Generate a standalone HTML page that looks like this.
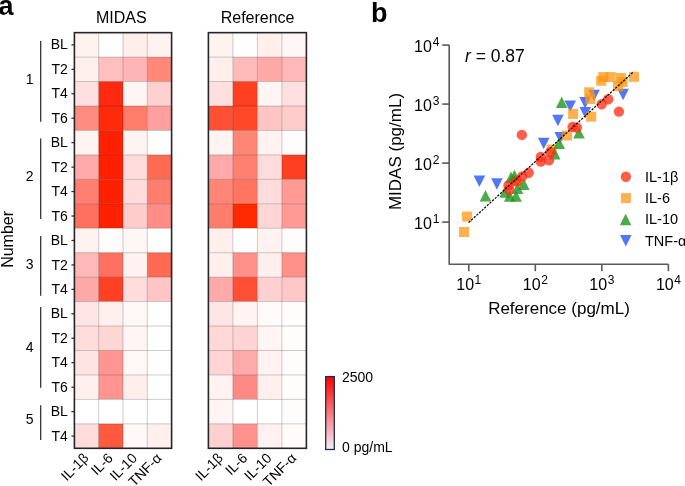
<!DOCTYPE html>
<html><head><meta charset="utf-8"><style>
html,body{margin:0;padding:0;background:#fff;width:685px;height:486px;overflow:hidden}
svg{display:block;will-change:transform}
text{font-family:"Liberation Sans", sans-serif;fill:#000}
</style></head><body>
<svg width="685" height="486" viewBox="0 0 685 486">
<rect x="74.40" y="32.65" width="24.30" height="24.45" fill="#fff3f0"/>
<rect x="98.70" y="32.65" width="24.30" height="24.45" fill="#fefefe"/>
<rect x="123.00" y="32.65" width="24.30" height="24.45" fill="#ffeeec"/>
<rect x="147.30" y="32.65" width="24.30" height="24.45" fill="#fff2f2"/>
<rect x="74.40" y="57.10" width="24.30" height="24.45" fill="#ffefed"/>
<rect x="98.70" y="57.10" width="24.30" height="24.45" fill="#ffbfbf"/>
<rect x="123.00" y="57.10" width="24.30" height="24.45" fill="#ffb5b5"/>
<rect x="147.30" y="57.10" width="24.30" height="24.45" fill="#ff8878"/>
<rect x="74.40" y="81.55" width="24.30" height="24.45" fill="#ffe0e0"/>
<rect x="98.70" y="81.55" width="24.30" height="24.45" fill="#ff2a10"/>
<rect x="123.00" y="81.55" width="24.30" height="24.45" fill="#fff5f3"/>
<rect x="147.30" y="81.55" width="24.30" height="24.45" fill="#ffd0d0"/>
<rect x="74.40" y="106.00" width="24.30" height="24.45" fill="#ff8c80"/>
<rect x="98.70" y="106.00" width="24.30" height="24.45" fill="#ff2a0a"/>
<rect x="123.00" y="106.00" width="24.30" height="24.45" fill="#ff7d6a"/>
<rect x="147.30" y="106.00" width="24.30" height="24.45" fill="#ff9f9f"/>
<rect x="74.40" y="130.45" width="24.30" height="24.45" fill="#fff4f0"/>
<rect x="98.70" y="130.45" width="24.30" height="24.45" fill="#ff2000"/>
<rect x="123.00" y="130.45" width="24.30" height="24.45" fill="#fff4f2"/>
<rect x="147.30" y="130.45" width="24.30" height="24.45" fill="#ffffff"/>
<rect x="74.40" y="154.90" width="24.30" height="24.45" fill="#ffaaaa"/>
<rect x="98.70" y="154.90" width="24.30" height="24.45" fill="#ff2000"/>
<rect x="123.00" y="154.90" width="24.30" height="24.45" fill="#ffdcdc"/>
<rect x="147.30" y="154.90" width="24.30" height="24.45" fill="#ff6a55"/>
<rect x="74.40" y="179.35" width="24.30" height="24.45" fill="#ff8070"/>
<rect x="98.70" y="179.35" width="24.30" height="24.45" fill="#ff2000"/>
<rect x="123.00" y="179.35" width="24.30" height="24.45" fill="#ffdcdc"/>
<rect x="147.30" y="179.35" width="24.30" height="24.45" fill="#ff7d6d"/>
<rect x="74.40" y="203.80" width="24.30" height="24.45" fill="#ff7060"/>
<rect x="98.70" y="203.80" width="24.30" height="24.45" fill="#ff2000"/>
<rect x="123.00" y="203.80" width="24.30" height="24.45" fill="#ffcccc"/>
<rect x="147.30" y="203.80" width="24.30" height="24.45" fill="#ff8c86"/>
<rect x="74.40" y="228.25" width="24.30" height="24.45" fill="#fff2f0"/>
<rect x="98.70" y="228.25" width="24.30" height="24.45" fill="#fffcfc"/>
<rect x="123.00" y="228.25" width="24.30" height="24.45" fill="#fff7f5"/>
<rect x="147.30" y="228.25" width="24.30" height="24.45" fill="#ffffff"/>
<rect x="74.40" y="252.70" width="24.30" height="24.45" fill="#ffb8b8"/>
<rect x="98.70" y="252.70" width="24.30" height="24.45" fill="#ff7060"/>
<rect x="123.00" y="252.70" width="24.30" height="24.45" fill="#fff2f0"/>
<rect x="147.30" y="252.70" width="24.30" height="24.45" fill="#ff6a55"/>
<rect x="74.40" y="277.15" width="24.30" height="24.45" fill="#ffa8a8"/>
<rect x="98.70" y="277.15" width="24.30" height="24.45" fill="#ff4025"/>
<rect x="123.00" y="277.15" width="24.30" height="24.45" fill="#ffdcdc"/>
<rect x="147.30" y="277.15" width="24.30" height="24.45" fill="#ffc4c4"/>
<rect x="74.40" y="301.60" width="24.30" height="24.45" fill="#ffe6e6"/>
<rect x="98.70" y="301.60" width="24.30" height="24.45" fill="#fff0ee"/>
<rect x="123.00" y="301.60" width="24.30" height="24.45" fill="#fff8f6"/>
<rect x="147.30" y="301.60" width="24.30" height="24.45" fill="#ffffff"/>
<rect x="74.40" y="326.05" width="24.30" height="24.45" fill="#ffdcdc"/>
<rect x="98.70" y="326.05" width="24.30" height="24.45" fill="#ffd6d6"/>
<rect x="123.00" y="326.05" width="24.30" height="24.45" fill="#fff5f4"/>
<rect x="147.30" y="326.05" width="24.30" height="24.45" fill="#ffffff"/>
<rect x="74.40" y="350.50" width="24.30" height="24.45" fill="#ffe4e4"/>
<rect x="98.70" y="350.50" width="24.30" height="24.45" fill="#ff9590"/>
<rect x="123.00" y="350.50" width="24.30" height="24.45" fill="#fff8f6"/>
<rect x="147.30" y="350.50" width="24.30" height="24.45" fill="#ffffff"/>
<rect x="74.40" y="374.95" width="24.30" height="24.45" fill="#fff0ee"/>
<rect x="98.70" y="374.95" width="24.30" height="24.45" fill="#ff9590"/>
<rect x="123.00" y="374.95" width="24.30" height="24.45" fill="#ffeeec"/>
<rect x="147.30" y="374.95" width="24.30" height="24.45" fill="#ffffff"/>
<rect x="74.40" y="399.40" width="24.30" height="24.45" fill="#ffffff"/>
<rect x="98.70" y="399.40" width="24.30" height="24.45" fill="#ffffff"/>
<rect x="123.00" y="399.40" width="24.30" height="24.45" fill="#ffffff"/>
<rect x="147.30" y="399.40" width="24.30" height="24.45" fill="#ffffff"/>
<rect x="74.40" y="423.85" width="24.30" height="24.45" fill="#ffdcdc"/>
<rect x="98.70" y="423.85" width="24.30" height="24.45" fill="#ff5a40"/>
<rect x="123.00" y="423.85" width="24.30" height="24.45" fill="#fff8f6"/>
<rect x="147.30" y="423.85" width="24.30" height="24.45" fill="#fff0ee"/>
<line x1="98.70" y1="32.65" x2="98.70" y2="448.30" stroke="#000" stroke-opacity="0.2" stroke-width="1"/>
<line x1="123.00" y1="32.65" x2="123.00" y2="448.30" stroke="#000" stroke-opacity="0.2" stroke-width="1"/>
<line x1="147.30" y1="32.65" x2="147.30" y2="448.30" stroke="#000" stroke-opacity="0.2" stroke-width="1"/>
<line x1="74.40" y1="57.10" x2="171.60" y2="57.10" stroke="#000" stroke-opacity="0.2" stroke-width="1"/>
<line x1="74.40" y1="81.55" x2="171.60" y2="81.55" stroke="#000" stroke-opacity="0.2" stroke-width="1"/>
<line x1="74.40" y1="106.00" x2="171.60" y2="106.00" stroke="#000" stroke-opacity="0.2" stroke-width="1"/>
<line x1="74.40" y1="130.45" x2="171.60" y2="130.45" stroke="#000" stroke-opacity="0.2" stroke-width="1"/>
<line x1="74.40" y1="154.90" x2="171.60" y2="154.90" stroke="#000" stroke-opacity="0.2" stroke-width="1"/>
<line x1="74.40" y1="179.35" x2="171.60" y2="179.35" stroke="#000" stroke-opacity="0.2" stroke-width="1"/>
<line x1="74.40" y1="203.80" x2="171.60" y2="203.80" stroke="#000" stroke-opacity="0.2" stroke-width="1"/>
<line x1="74.40" y1="228.25" x2="171.60" y2="228.25" stroke="#000" stroke-opacity="0.2" stroke-width="1"/>
<line x1="74.40" y1="252.70" x2="171.60" y2="252.70" stroke="#000" stroke-opacity="0.2" stroke-width="1"/>
<line x1="74.40" y1="277.15" x2="171.60" y2="277.15" stroke="#000" stroke-opacity="0.2" stroke-width="1"/>
<line x1="74.40" y1="301.60" x2="171.60" y2="301.60" stroke="#000" stroke-opacity="0.2" stroke-width="1"/>
<line x1="74.40" y1="326.05" x2="171.60" y2="326.05" stroke="#000" stroke-opacity="0.2" stroke-width="1"/>
<line x1="74.40" y1="350.50" x2="171.60" y2="350.50" stroke="#000" stroke-opacity="0.2" stroke-width="1"/>
<line x1="74.40" y1="374.95" x2="171.60" y2="374.95" stroke="#000" stroke-opacity="0.2" stroke-width="1"/>
<line x1="74.40" y1="399.40" x2="171.60" y2="399.40" stroke="#000" stroke-opacity="0.2" stroke-width="1"/>
<line x1="74.40" y1="423.85" x2="171.60" y2="423.85" stroke="#000" stroke-opacity="0.2" stroke-width="1"/>
<rect x="74.40" y="32.65" width="97.20" height="415.65" fill="none" stroke="#262626" stroke-width="1.6"/>
<text x="89.55" y="458.90" font-size="14" text-anchor="end" transform="rotate(-45 89.55 458.90)">IL-1β</text>
<text x="113.85" y="458.90" font-size="14" text-anchor="end" transform="rotate(-45 113.85 458.90)">IL-6</text>
<text x="138.15" y="458.90" font-size="14" text-anchor="end" transform="rotate(-45 138.15 458.90)">IL-10</text>
<text x="162.45" y="458.90" font-size="14" text-anchor="end" transform="rotate(-45 162.45 458.90)">TNF-α</text>
<rect x="208.40" y="32.65" width="24.50" height="24.45" fill="#fff3f0"/>
<rect x="232.90" y="32.65" width="24.50" height="24.45" fill="#fefefe"/>
<rect x="257.40" y="32.65" width="24.50" height="24.45" fill="#fff0ee"/>
<rect x="281.90" y="32.65" width="24.50" height="24.45" fill="#fff7f5"/>
<rect x="208.40" y="57.10" width="24.50" height="24.45" fill="#fff0ee"/>
<rect x="232.90" y="57.10" width="24.50" height="24.45" fill="#ffbaba"/>
<rect x="257.40" y="57.10" width="24.50" height="24.45" fill="#ffa8a8"/>
<rect x="281.90" y="57.10" width="24.50" height="24.45" fill="#ffb8b8"/>
<rect x="208.40" y="81.55" width="24.50" height="24.45" fill="#ffe0e0"/>
<rect x="232.90" y="81.55" width="24.50" height="24.45" fill="#ff4020"/>
<rect x="257.40" y="81.55" width="24.50" height="24.45" fill="#fff5f2"/>
<rect x="281.90" y="81.55" width="24.50" height="24.45" fill="#ffe0e0"/>
<rect x="208.40" y="106.00" width="24.50" height="24.45" fill="#ff5035"/>
<rect x="232.90" y="106.00" width="24.50" height="24.45" fill="#ff4828"/>
<rect x="257.40" y="106.00" width="24.50" height="24.45" fill="#ffc4c4"/>
<rect x="281.90" y="106.00" width="24.50" height="24.45" fill="#ffcccc"/>
<rect x="208.40" y="130.45" width="24.50" height="24.45" fill="#fff4f2"/>
<rect x="232.90" y="130.45" width="24.50" height="24.45" fill="#ff8575"/>
<rect x="257.40" y="130.45" width="24.50" height="24.45" fill="#fff2f0"/>
<rect x="281.90" y="130.45" width="24.50" height="24.45" fill="#fffcfc"/>
<rect x="208.40" y="154.90" width="24.50" height="24.45" fill="#ffaaaa"/>
<rect x="232.90" y="154.90" width="24.50" height="24.45" fill="#ff8070"/>
<rect x="257.40" y="154.90" width="24.50" height="24.45" fill="#ffdcdc"/>
<rect x="281.90" y="154.90" width="24.50" height="24.45" fill="#ff4020"/>
<rect x="208.40" y="179.35" width="24.50" height="24.45" fill="#ff8575"/>
<rect x="232.90" y="179.35" width="24.50" height="24.45" fill="#ff7560"/>
<rect x="257.40" y="179.35" width="24.50" height="24.45" fill="#ffdcdc"/>
<rect x="281.90" y="179.35" width="24.50" height="24.45" fill="#ff9a95"/>
<rect x="208.40" y="203.80" width="24.50" height="24.45" fill="#ff7d6a"/>
<rect x="232.90" y="203.80" width="24.50" height="24.45" fill="#ff2a00"/>
<rect x="257.40" y="203.80" width="24.50" height="24.45" fill="#ffd6d6"/>
<rect x="281.90" y="203.80" width="24.50" height="24.45" fill="#ff9a95"/>
<rect x="208.40" y="228.25" width="24.50" height="24.45" fill="#fff0ee"/>
<rect x="232.90" y="228.25" width="24.50" height="24.45" fill="#ffffff"/>
<rect x="257.40" y="228.25" width="24.50" height="24.45" fill="#fff2f0"/>
<rect x="281.90" y="228.25" width="24.50" height="24.45" fill="#fffcfc"/>
<rect x="208.40" y="252.70" width="24.50" height="24.45" fill="#fff0ee"/>
<rect x="232.90" y="252.70" width="24.50" height="24.45" fill="#ff908a"/>
<rect x="257.40" y="252.70" width="24.50" height="24.45" fill="#fff0ee"/>
<rect x="281.90" y="252.70" width="24.50" height="24.45" fill="#ff908a"/>
<rect x="208.40" y="277.15" width="24.50" height="24.45" fill="#ffaaaa"/>
<rect x="232.90" y="277.15" width="24.50" height="24.45" fill="#ff5035"/>
<rect x="257.40" y="277.15" width="24.50" height="24.45" fill="#ffd0d0"/>
<rect x="281.90" y="277.15" width="24.50" height="24.45" fill="#ffc8c8"/>
<rect x="208.40" y="301.60" width="24.50" height="24.45" fill="#ffe6e6"/>
<rect x="232.90" y="301.60" width="24.50" height="24.45" fill="#fff4f2"/>
<rect x="257.40" y="301.60" width="24.50" height="24.45" fill="#fffbfa"/>
<rect x="281.90" y="301.60" width="24.50" height="24.45" fill="#fffcfc"/>
<rect x="208.40" y="326.05" width="24.50" height="24.45" fill="#ffd8d8"/>
<rect x="232.90" y="326.05" width="24.50" height="24.45" fill="#ffd4d4"/>
<rect x="257.40" y="326.05" width="24.50" height="24.45" fill="#fff5f4"/>
<rect x="281.90" y="326.05" width="24.50" height="24.45" fill="#fffcfc"/>
<rect x="208.40" y="350.50" width="24.50" height="24.45" fill="#ffd4d4"/>
<rect x="232.90" y="350.50" width="24.50" height="24.45" fill="#ffaaaa"/>
<rect x="257.40" y="350.50" width="24.50" height="24.45" fill="#fff2f0"/>
<rect x="281.90" y="350.50" width="24.50" height="24.45" fill="#fffcfc"/>
<rect x="208.40" y="374.95" width="24.50" height="24.45" fill="#fff2f0"/>
<rect x="232.90" y="374.95" width="24.50" height="24.45" fill="#ff8a85"/>
<rect x="257.40" y="374.95" width="24.50" height="24.45" fill="#fff0ee"/>
<rect x="281.90" y="374.95" width="24.50" height="24.45" fill="#fffcfc"/>
<rect x="208.40" y="399.40" width="24.50" height="24.45" fill="#fff5f4"/>
<rect x="232.90" y="399.40" width="24.50" height="24.45" fill="#ffffff"/>
<rect x="257.40" y="399.40" width="24.50" height="24.45" fill="#ffffff"/>
<rect x="281.90" y="399.40" width="24.50" height="24.45" fill="#fffcfc"/>
<rect x="208.40" y="423.85" width="24.50" height="24.45" fill="#ffd0d0"/>
<rect x="232.90" y="423.85" width="24.50" height="24.45" fill="#ff928d"/>
<rect x="257.40" y="423.85" width="24.50" height="24.45" fill="#fff2f0"/>
<rect x="281.90" y="423.85" width="24.50" height="24.45" fill="#fffcfa"/>
<line x1="232.90" y1="32.65" x2="232.90" y2="448.30" stroke="#000" stroke-opacity="0.2" stroke-width="1"/>
<line x1="257.40" y1="32.65" x2="257.40" y2="448.30" stroke="#000" stroke-opacity="0.2" stroke-width="1"/>
<line x1="281.90" y1="32.65" x2="281.90" y2="448.30" stroke="#000" stroke-opacity="0.2" stroke-width="1"/>
<line x1="208.40" y1="57.10" x2="306.40" y2="57.10" stroke="#000" stroke-opacity="0.2" stroke-width="1"/>
<line x1="208.40" y1="81.55" x2="306.40" y2="81.55" stroke="#000" stroke-opacity="0.2" stroke-width="1"/>
<line x1="208.40" y1="106.00" x2="306.40" y2="106.00" stroke="#000" stroke-opacity="0.2" stroke-width="1"/>
<line x1="208.40" y1="130.45" x2="306.40" y2="130.45" stroke="#000" stroke-opacity="0.2" stroke-width="1"/>
<line x1="208.40" y1="154.90" x2="306.40" y2="154.90" stroke="#000" stroke-opacity="0.2" stroke-width="1"/>
<line x1="208.40" y1="179.35" x2="306.40" y2="179.35" stroke="#000" stroke-opacity="0.2" stroke-width="1"/>
<line x1="208.40" y1="203.80" x2="306.40" y2="203.80" stroke="#000" stroke-opacity="0.2" stroke-width="1"/>
<line x1="208.40" y1="228.25" x2="306.40" y2="228.25" stroke="#000" stroke-opacity="0.2" stroke-width="1"/>
<line x1="208.40" y1="252.70" x2="306.40" y2="252.70" stroke="#000" stroke-opacity="0.2" stroke-width="1"/>
<line x1="208.40" y1="277.15" x2="306.40" y2="277.15" stroke="#000" stroke-opacity="0.2" stroke-width="1"/>
<line x1="208.40" y1="301.60" x2="306.40" y2="301.60" stroke="#000" stroke-opacity="0.2" stroke-width="1"/>
<line x1="208.40" y1="326.05" x2="306.40" y2="326.05" stroke="#000" stroke-opacity="0.2" stroke-width="1"/>
<line x1="208.40" y1="350.50" x2="306.40" y2="350.50" stroke="#000" stroke-opacity="0.2" stroke-width="1"/>
<line x1="208.40" y1="374.95" x2="306.40" y2="374.95" stroke="#000" stroke-opacity="0.2" stroke-width="1"/>
<line x1="208.40" y1="399.40" x2="306.40" y2="399.40" stroke="#000" stroke-opacity="0.2" stroke-width="1"/>
<line x1="208.40" y1="423.85" x2="306.40" y2="423.85" stroke="#000" stroke-opacity="0.2" stroke-width="1"/>
<rect x="208.40" y="32.65" width="98.00" height="415.65" fill="none" stroke="#262626" stroke-width="1.6"/>
<text x="223.65" y="458.90" font-size="14" text-anchor="end" transform="rotate(-45 223.65 458.90)">IL-1β</text>
<text x="248.15" y="458.90" font-size="14" text-anchor="end" transform="rotate(-45 248.15 458.90)">IL-6</text>
<text x="272.65" y="458.90" font-size="14" text-anchor="end" transform="rotate(-45 272.65 458.90)">IL-10</text>
<text x="297.15" y="458.90" font-size="14" text-anchor="end" transform="rotate(-45 297.15 458.90)">TNF-α</text>
<line x1="71.40" y1="44.88" x2="74.40" y2="44.88" stroke="#262626" stroke-width="1.2"/>
<text x="67.90" y="49.48" font-size="14" text-anchor="end">BL</text>
<line x1="71.40" y1="69.32" x2="74.40" y2="69.32" stroke="#262626" stroke-width="1.2"/>
<text x="67.90" y="73.92" font-size="14" text-anchor="end">T2</text>
<line x1="71.40" y1="93.78" x2="74.40" y2="93.78" stroke="#262626" stroke-width="1.2"/>
<text x="67.90" y="98.38" font-size="14" text-anchor="end">T4</text>
<line x1="71.40" y1="118.22" x2="74.40" y2="118.22" stroke="#262626" stroke-width="1.2"/>
<text x="67.90" y="122.82" font-size="14" text-anchor="end">T6</text>
<line x1="71.40" y1="142.67" x2="74.40" y2="142.67" stroke="#262626" stroke-width="1.2"/>
<text x="67.90" y="147.27" font-size="14" text-anchor="end">BL</text>
<line x1="71.40" y1="167.12" x2="74.40" y2="167.12" stroke="#262626" stroke-width="1.2"/>
<text x="67.90" y="171.72" font-size="14" text-anchor="end">T2</text>
<line x1="71.40" y1="191.57" x2="74.40" y2="191.57" stroke="#262626" stroke-width="1.2"/>
<text x="67.90" y="196.17" font-size="14" text-anchor="end">T4</text>
<line x1="71.40" y1="216.03" x2="74.40" y2="216.03" stroke="#262626" stroke-width="1.2"/>
<text x="67.90" y="220.62" font-size="14" text-anchor="end">T6</text>
<line x1="71.40" y1="240.47" x2="74.40" y2="240.47" stroke="#262626" stroke-width="1.2"/>
<text x="67.90" y="245.07" font-size="14" text-anchor="end">BL</text>
<line x1="71.40" y1="264.93" x2="74.40" y2="264.93" stroke="#262626" stroke-width="1.2"/>
<text x="67.90" y="269.53" font-size="14" text-anchor="end">T2</text>
<line x1="71.40" y1="289.37" x2="74.40" y2="289.37" stroke="#262626" stroke-width="1.2"/>
<text x="67.90" y="293.97" font-size="14" text-anchor="end">T4</text>
<line x1="71.40" y1="313.82" x2="74.40" y2="313.82" stroke="#262626" stroke-width="1.2"/>
<text x="67.90" y="318.43" font-size="14" text-anchor="end">BL</text>
<line x1="71.40" y1="338.27" x2="74.40" y2="338.27" stroke="#262626" stroke-width="1.2"/>
<text x="67.90" y="342.88" font-size="14" text-anchor="end">T2</text>
<line x1="71.40" y1="362.72" x2="74.40" y2="362.72" stroke="#262626" stroke-width="1.2"/>
<text x="67.90" y="367.32" font-size="14" text-anchor="end">T4</text>
<line x1="71.40" y1="387.17" x2="74.40" y2="387.17" stroke="#262626" stroke-width="1.2"/>
<text x="67.90" y="391.77" font-size="14" text-anchor="end">T6</text>
<line x1="71.40" y1="411.62" x2="74.40" y2="411.62" stroke="#262626" stroke-width="1.2"/>
<text x="67.90" y="416.22" font-size="14" text-anchor="end">BL</text>
<line x1="71.40" y1="436.07" x2="74.40" y2="436.07" stroke="#262626" stroke-width="1.2"/>
<text x="67.90" y="440.68" font-size="14" text-anchor="end">T4</text>
<line x1="40.7" y1="40.9" x2="40.7" y2="121.7" stroke="#262626" stroke-width="1.2"/>
<text x="29.6" y="84.3" font-size="14" text-anchor="middle">1</text>
<line x1="40.7" y1="138.5" x2="40.7" y2="219.1" stroke="#262626" stroke-width="1.2"/>
<text x="29.6" y="180.6" font-size="14" text-anchor="middle">2</text>
<line x1="40.7" y1="236.0" x2="40.7" y2="295.7" stroke="#262626" stroke-width="1.2"/>
<text x="29.6" y="269.3" font-size="14" text-anchor="middle">3</text>
<line x1="40.7" y1="306.9" x2="40.7" y2="387.7" stroke="#262626" stroke-width="1.2"/>
<text x="29.6" y="351.7" font-size="14" text-anchor="middle">4</text>
<line x1="40.7" y1="405.3" x2="40.7" y2="439.9" stroke="#262626" stroke-width="1.2"/>
<text x="29.6" y="424.3" font-size="14" text-anchor="middle">5</text>
<text x="0" y="0" font-size="16" text-anchor="middle" transform="translate(13 239.4) rotate(-90)">Number</text>
<text x="121.3" y="22.6" font-size="16" text-anchor="middle">MIDAS</text>
<text x="257.6" y="22.6" font-size="16" text-anchor="middle">Reference</text>
<text x="-1.6" y="15.2" font-size="27" font-weight="bold">a</text>
<text x="371" y="21.7" font-size="27" font-weight="bold">b</text>
<defs><linearGradient id="cb" x1="0" y1="1" x2="0" y2="0"><stop offset="0" stop-color="#f4eff6"/><stop offset="1" stop-color="#ff0000"/></linearGradient></defs>
<rect x="325.7" y="376.6" width="8.6" height="72.9" fill="url(#cb)" stroke="#1f2b50" stroke-width="1.3"/>
<text x="342" y="382.2" font-size="14">2500</text>
<text x="342" y="451.7" font-size="14">0 pg/mL</text>
<path d="M449.2,45.10 V264.2 H668.39" fill="none" stroke="#5a5a5a" stroke-width="1.6" stroke-linejoin="round"/>
<line x1="442.2" y1="222.10" x2="449.2" y2="222.10" stroke="#5a5a5a" stroke-width="1.6"/>
<text x="431.8" y="229.10" font-size="16" text-anchor="end">10</text>
<text x="432.8" y="223.10" font-size="12">1</text>
<line x1="468.80" y1="264.2" x2="468.80" y2="271.2" stroke="#5a5a5a" stroke-width="1.6"/>
<text x="474.10" y="290.3" font-size="16" text-anchor="end">10</text>
<text x="474.60" y="284.0" font-size="12">1</text>
<line x1="442.2" y1="163.10" x2="449.2" y2="163.10" stroke="#5a5a5a" stroke-width="1.6"/>
<text x="431.8" y="170.10" font-size="16" text-anchor="end">10</text>
<text x="432.8" y="164.10" font-size="12">2</text>
<line x1="535.33" y1="264.2" x2="535.33" y2="271.2" stroke="#5a5a5a" stroke-width="1.6"/>
<text x="540.63" y="290.3" font-size="16" text-anchor="end">10</text>
<text x="541.13" y="284.0" font-size="12">2</text>
<line x1="442.2" y1="104.10" x2="449.2" y2="104.10" stroke="#5a5a5a" stroke-width="1.6"/>
<text x="431.8" y="111.10" font-size="16" text-anchor="end">10</text>
<text x="432.8" y="105.10" font-size="12">3</text>
<line x1="601.86" y1="264.2" x2="601.86" y2="271.2" stroke="#5a5a5a" stroke-width="1.6"/>
<text x="607.16" y="290.3" font-size="16" text-anchor="end">10</text>
<text x="607.66" y="284.0" font-size="12">3</text>
<line x1="442.2" y1="45.10" x2="449.2" y2="45.10" stroke="#5a5a5a" stroke-width="1.6"/>
<text x="431.8" y="52.10" font-size="16" text-anchor="end">10</text>
<text x="432.8" y="46.10" font-size="12">4</text>
<line x1="668.39" y1="264.2" x2="668.39" y2="271.2" stroke="#5a5a5a" stroke-width="1.6"/>
<text x="673.69" y="290.3" font-size="16" text-anchor="end">10</text>
<text x="674.19" y="284.0" font-size="12">4</text>
<text x="0" y="0" font-size="17" text-anchor="middle" transform="translate(401.3 151.5) rotate(-90)">MIDAS (pg/mL)</text>
<text x="559" y="313.7" font-size="17" text-anchor="middle">Reference (pg/mL)</text>
<text x="465" y="61.6" font-size="17.5"><tspan font-style="italic">r</tspan> = 0.87</text>
<path d="M473.60,175.40 H485.20 L479.40,186.90 Z" fill="rgb(50,95,245)" fill-opacity="0.85"/>
<path d="M491.10,178.30 H502.70 L496.90,189.80 Z" fill="rgb(50,95,245)" fill-opacity="0.85"/>
<path d="M537.90,137.80 H549.50 L543.70,149.30 Z" fill="rgb(50,95,245)" fill-opacity="0.85"/>
<path d="M554.40,132.00 H566.00 L560.20,143.50 Z" fill="rgb(50,95,245)" fill-opacity="0.85"/>
<path d="M552.10,114.80 H563.70 L557.90,126.30 Z" fill="rgb(50,95,245)" fill-opacity="0.85"/>
<path d="M564.40,100.60 H576.00 L570.20,112.10 Z" fill="rgb(50,95,245)" fill-opacity="0.85"/>
<path d="M579.50,107.10 H591.10 L585.30,118.60 Z" fill="rgb(50,95,245)" fill-opacity="0.85"/>
<path d="M579.30,97.10 H590.90 L585.10,108.60 Z" fill="rgb(50,95,245)" fill-opacity="0.85"/>
<path d="M588.20,89.80 H599.80 L594.00,101.30 Z" fill="rgb(50,95,245)" fill-opacity="0.85"/>
<path d="M617.30,88.80 H628.90 L623.10,100.30 Z" fill="rgb(50,95,245)" fill-opacity="0.85"/>
<rect x="462.05" y="211.60" width="10" height="10" fill="rgb(255,150,20)" fill-opacity="0.75"/>
<rect x="459.05" y="227.00" width="10" height="10" fill="rgb(255,150,20)" fill-opacity="0.75"/>
<rect x="596.20" y="75.70" width="10" height="10" fill="rgb(255,150,20)" fill-opacity="0.75"/>
<rect x="598.30" y="72.10" width="10" height="10" fill="rgb(255,150,20)" fill-opacity="0.75"/>
<rect x="605.70" y="72.10" width="10" height="10" fill="rgb(255,150,20)" fill-opacity="0.75"/>
<rect x="615.90" y="73.10" width="10" height="10" fill="rgb(255,150,20)" fill-opacity="0.75"/>
<rect x="617.70" y="76.90" width="10" height="10" fill="rgb(255,150,20)" fill-opacity="0.75"/>
<rect x="613.00" y="81.20" width="10" height="10" fill="rgb(255,150,20)" fill-opacity="0.75"/>
<rect x="629.00" y="71.80" width="10" height="10" fill="rgb(255,150,20)" fill-opacity="0.75"/>
<rect x="584.20" y="87.30" width="10" height="10" fill="rgb(255,150,20)" fill-opacity="0.75"/>
<rect x="585.30" y="94.10" width="10" height="10" fill="rgb(255,150,20)" fill-opacity="0.75"/>
<rect x="586.20" y="111.70" width="10" height="10" fill="rgb(255,150,20)" fill-opacity="0.75"/>
<rect x="568.20" y="108.90" width="10" height="10" fill="rgb(255,150,20)" fill-opacity="0.75"/>
<rect x="562.00" y="130.50" width="10" height="10" fill="rgb(255,150,20)" fill-opacity="0.75"/>
<rect x="546.60" y="144.50" width="10" height="10" fill="rgb(255,150,20)" fill-opacity="0.75"/>
<rect x="511.40" y="175.60" width="10" height="10" fill="rgb(255,150,20)" fill-opacity="0.75"/>
<path d="M555.90,107.90 H567.50 L561.70,96.40 Z" fill="rgb(30,150,30)" fill-opacity="0.8"/>
<path d="M573.20,138.50 H584.80 L579.00,127.00 Z" fill="rgb(30,150,30)" fill-opacity="0.8"/>
<path d="M553.40,149.00 H565.00 L559.20,137.50 Z" fill="rgb(30,150,30)" fill-opacity="0.8"/>
<path d="M548.90,159.50 H560.50 L554.70,148.00 Z" fill="rgb(30,150,30)" fill-opacity="0.8"/>
<path d="M479.70,201.50 H491.30 L485.50,190.00 Z" fill="rgb(30,150,30)" fill-opacity="0.8"/>
<path d="M505.20,183.00 H516.80 L511.00,171.50 Z" fill="rgb(30,150,30)" fill-opacity="0.8"/>
<path d="M508.60,181.30 H520.20 L514.40,169.80 Z" fill="rgb(30,150,30)" fill-opacity="0.8"/>
<path d="M518.00,190.10 H529.60 L523.80,178.60 Z" fill="rgb(30,150,30)" fill-opacity="0.8"/>
<path d="M499.20,197.70 H510.80 L505.00,186.20 Z" fill="rgb(30,150,30)" fill-opacity="0.8"/>
<path d="M503.90,201.70 H515.50 L509.70,190.20 Z" fill="rgb(30,150,30)" fill-opacity="0.8"/>
<path d="M510.20,201.70 H521.80 L516.00,190.20 Z" fill="rgb(30,150,30)" fill-opacity="0.8"/>
<path d="M511.70,194.00 H523.30 L517.50,182.50 Z" fill="rgb(30,150,30)" fill-opacity="0.8"/>
<circle cx="521.85" cy="134.90" r="5.2" fill="rgb(255,45,19)" fill-opacity="0.77"/>
<circle cx="608.20" cy="99.20" r="5.2" fill="rgb(255,45,19)" fill-opacity="0.77"/>
<circle cx="601.70" cy="104.20" r="5.2" fill="rgb(255,45,19)" fill-opacity="0.77"/>
<circle cx="618.90" cy="111.60" r="5.2" fill="rgb(255,45,19)" fill-opacity="0.77"/>
<circle cx="572.60" cy="126.90" r="5.2" fill="rgb(255,45,19)" fill-opacity="0.77"/>
<circle cx="576.80" cy="127.50" r="5.2" fill="rgb(255,45,19)" fill-opacity="0.77"/>
<circle cx="550.30" cy="152.20" r="5.2" fill="rgb(255,45,19)" fill-opacity="0.77"/>
<circle cx="540.80" cy="157.00" r="5.2" fill="rgb(255,45,19)" fill-opacity="0.77"/>
<circle cx="540.80" cy="161.60" r="5.2" fill="rgb(255,45,19)" fill-opacity="0.77"/>
<circle cx="549.00" cy="160.20" r="5.2" fill="rgb(255,45,19)" fill-opacity="0.77"/>
<circle cx="528.70" cy="172.80" r="5.2" fill="rgb(255,45,19)" fill-opacity="0.77"/>
<circle cx="522.20" cy="176.50" r="5.2" fill="rgb(255,45,19)" fill-opacity="0.77"/>
<circle cx="516.80" cy="181.50" r="5.2" fill="rgb(255,45,19)" fill-opacity="0.77"/>
<circle cx="508.50" cy="185.40" r="5.2" fill="rgb(255,45,19)" fill-opacity="0.77"/>
<circle cx="509.20" cy="189.70" r="5.2" fill="rgb(255,45,19)" fill-opacity="0.77"/>
<line x1="468.6" y1="222.6" x2="633.8" y2="71.5" stroke="#000" stroke-width="1.2" stroke-dasharray="2.3 1.25"/>
<circle cx="625.9" cy="176.8" r="5.2" fill="rgb(255,45,19)" fill-opacity="0.77"/>
<rect x="620.9" y="193.1" width="10" height="10" fill="rgb(255,150,20)" fill-opacity="0.75"/>
<path d="M619.80,225.20 H631.40 L625.60,213.70 Z" fill="rgb(30,150,30)" fill-opacity="0.8"/>
<path d="M620.00,235.00 H631.60 L625.80,246.50 Z" fill="rgb(50,95,245)" fill-opacity="0.85"/>
<text x="645" y="182.1" font-size="14.5">IL-1β</text>
<text x="645" y="203.2" font-size="14.5">IL-6</text>
<text x="645" y="224.3" font-size="14.5">IL-10</text>
<text x="645" y="245.6" font-size="14.5">TNF-α</text>
</svg>
</body></html>
